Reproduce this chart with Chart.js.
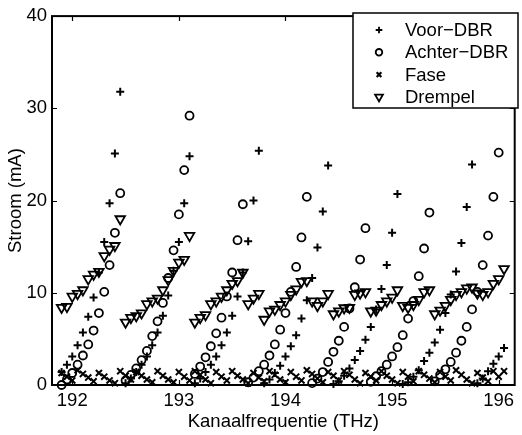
<!DOCTYPE html>
<html lang="nl">
<head>
    <meta charset="UTF-8">
    <title>Stroom per kanaalfrequentie</title>
    <script src="https://cdn.jsdelivr.net/npm/chart.js"></script>
    <style>
        html, body {
            margin: 0;
            padding: 0;
            background-color: #fff;
        }
        #chart {
            display: block;
        }
    </style>
</head>
<body>
    <canvas id="chart" width="522" height="435"></canvas>

    <script>
        // Channel frequencies (THz), 50 GHz grid
        const freq = [
            191.90, 191.95, 192.00, 192.05, 192.10, 192.15, 192.20, 192.25, 192.30, 192.35, 192.40, 192.45,
            192.50, 192.55, 192.60, 192.65, 192.70, 192.75, 192.80, 192.85, 192.90, 192.95, 193.00, 193.05, 193.10,
            193.15, 193.20, 193.25, 193.30, 193.35, 193.40, 193.45, 193.50, 193.55, 193.60, 193.65, 193.70, 193.75,
            193.80, 193.85, 193.90, 193.95, 194.00, 194.05, 194.10, 194.15, 194.20, 194.25, 194.30, 194.35, 194.40,
            194.45, 194.50, 194.55, 194.60, 194.65, 194.70, 194.75, 194.80, 194.85, 194.90, 194.95, 195.00, 195.05,
            195.10, 195.15, 195.20, 195.25, 195.30, 195.35, 195.40, 195.45, 195.50, 195.55, 195.60, 195.65, 195.70, 195.75,
            195.80, 195.85, 195.90, 195.95, 196.00, 196.05
        ];

        // Currents (mA)
        const voorDbr = [
            1.4, 2.2, 3.1, 4.3, 5.7, 7.4, 9.5, 12.2, 15.5, 19.7, 25.1, 31.8,
            0.2, 0.7, 1.4, 2.2, 3.1, 4.3, 5.7, 7.5, 9.7, 12.4, 15.5, 19.7, 24.8,
            0.2, 0.7, 1.4, 2.2, 3.1, 4.3, 5.7, 7.5, 9.6, 12.2, 15.6, 20.0, 25.4,
            0.2, 0.6, 1.3, 2.1, 3.1, 4.2, 5.4, 7.2, 9.2, 11.6, 14.9, 18.8, 23.8,
            0.1, 0.4, 1.0, 1.8, 2.7, 3.7, 4.9, 6.3, 8.2, 10.4, 13.0, 16.5, 20.7,
            0.1, 0.3, 0.9, 1.6, 2.6, 3.5, 4.6, 6.0, 7.8, 9.8, 12.3, 15.4, 19.3, 23.9,
            0.2, 0.7, 1.5, 2.3, 3.1, 4.0
        ];
        const achterDbr = [
            0.0, 0.6, 1.3, 2.2, 3.2, 4.4, 5.9, 7.8, 10.1, 13.0, 16.5, 20.8,
            0.5, 1.1, 1.8, 2.7, 3.7, 5.3, 6.9, 8.9, 11.6, 14.6, 18.5, 23.3, 29.2,
            1.2, 2.0, 3.0, 4.2, 5.6, 7.3, 9.6, 12.2, 15.7, 19.6, 0.3, 0.8, 1.5,
            2.2, 3.2, 4.4, 6.0, 7.8, 10.1, 12.8, 16.0, 20.4, 0.2, 0.7, 1.4, 2.5,
            3.6, 4.8, 6.3, 8.3, 10.6, 13.6, 17.0, 0.35, 0.95, 1.5, 2.2, 3.1, 4.1,
            5.4, 7.2, 9.1, 11.8, 14.8, 18.7, 0.4, 1.1, 1.7, 2.5, 3.5, 4.8, 6.3, 8.2,
            10.1, 13.0, 16.2, 20.4, 25.2, null
        ];
        const fase = [
            1.3, 0.9, 0.5, 1.6, 1.2, 0.8, 0.4, 1.3, 0.9, 0.5, 0.2, 1.5,
            1.0, 0.6, 1.4, 1.0, 0.6, 0.3, 1.5, 1.0, 0.6, 0.3, 1.4, 0.9, 0.5,
            1.5, 1.1, 0.6, 0.2, 1.4, 0.9, 0.5, 1.5, 1.0, 0.6, 0.2, 1.3, 0.8,
            0.4, 1.5, 1.1, 0.6, 0.3, 1.4, 0.9, 0.5, 1.6, 1.2, 0.7, 0.3, 1.4,
            1.0, 0.5, 1.5, 1.1, 0.6, 0.2, 1.3, 0.9, 0.5, 1.5, 1.0, 0.6, 0.2,
            1.4, 0.9, 0.4, 1.5, 1.1, 0.7, 0.3, 1.4, 0.9, 0.5, 1.6, 1.1, 0.6, 0.2,
            1.3, 0.8, 0.4, 1.5, 0.9, 1.5
        ];
        const drempel = [
            8.4, 8.5, 9.6, 9.9, 10.3, 11.5, 12.0, 12.3, 14.0, 14.7, 15.1, 18.0,
            6.8, 7.3, 7.5, 7.8, 8.8, 9.1, 9.4, 10.3, 11.4, 12.4, 13.3, 13.6, 16.2,
            6.8, 7.3, 7.6, 8.8, 9.1, 9.6, 10.3, 11.0, 11.3, 12.2, 8.8, 9.4, 9.9,
            7.1, 8.0, 8.2, 8.7, 9.1, 9.8, 10.4, 11.2, 11.3, 9.1, 8.6, 9.1, 9.9,
            7.7, 8.0, 8.35, 8.4, 9.8, 9.95, 10.1, 8.0, 8.1, 8.7, 9.1, 9.5, 10.3,
            8.6, 8.4, 8.7, 9.25, 10.1, 10.3, 7.7, 8.1, 8.6, 9.25, 9.8, 10.1, 10.5, 10.6,
            9.95, 9.8, 10.1, 11.0, 11.5, 12.6
        ];

        const xTicks = [192, 193, 194, 195, 196];
        const yTicks = [0, 10, 20, 30, 40];

        const FONT = 'Liberation Sans, Arial, Helvetica, sans-serif';

        function toPoints(ys) {
            return freq.map((f, i) => ({ x: f, y: ys[i] }));
        }

        const series = [
            { label: 'Voor\u2212DBR', data: voorDbr, style: 'cross', radius: 4, rotation: 0, lw: 2 },
            { label: 'Achter\u2212DBR', data: achterDbr, style: 'circle', radius: 4, rotation: 0, lw: 1.8 },
            { label: 'Fase', data: fase, style: 'crossRot', radius: 4.3, rotation: 0, lw: 2 },
            { label: 'Drempel', data: drempel, style: 'triangle', radius: 5.5, rotation: 180, lw: 1.8 }
        ];

        // draw a marker like chart.js does, used for the legend
        function drawMarker(ctx, style, x, y, r, rotation) {
            ctx.beginPath();
            if (style === 'cross') {
                ctx.moveTo(x - r, y); ctx.lineTo(x + r, y);
                ctx.moveTo(x, y - r); ctx.lineTo(x, y + r);
            } else if (style === 'crossRot') {
                const d = r * Math.SQRT1_2;
                ctx.moveTo(x - d, y - d); ctx.lineTo(x + d, y + d);
                ctx.moveTo(x + d, y - d); ctx.lineTo(x - d, y + d);
            } else if (style === 'circle') {
                ctx.arc(x, y, r, 0, Math.PI * 2);
            } else if (style === 'triangle') {
                let rad = rotation * Math.PI / 180;
                ctx.moveTo(x + Math.sin(rad) * r, y - Math.cos(rad) * r);
                rad += Math.PI * 2 / 3;
                ctx.lineTo(x + Math.sin(rad) * r, y - Math.cos(rad) * r);
                rad += Math.PI * 2 / 3;
                ctx.lineTo(x + Math.sin(rad) * r, y - Math.cos(rad) * r);
                ctx.closePath();
            }
            ctx.stroke();
        }

        // MATLAB style box with inward ticks, plus the legend
        const boxPlugin = {
            id: 'boxPlugin',
            afterDatasetsDraw(chart) {
                const { ctx, chartArea: a, scales } = chart;
                const tl = 5;
                ctx.save();
                ctx.strokeStyle = '#000';
                ctx.lineWidth = 1.2;
                ctx.beginPath();
                xTicks.forEach(v => {
                    const px = Math.round(scales.x.getPixelForValue(v)) + 0.5;
                    ctx.moveTo(px, a.bottom); ctx.lineTo(px, a.bottom - tl);
                    ctx.moveTo(px, a.top); ctx.lineTo(px, a.top + tl);
                });
                yTicks.forEach(v => {
                    const py = Math.round(scales.y.getPixelForValue(v)) + 0.5;
                    ctx.moveTo(a.left, py); ctx.lineTo(a.left + tl, py);
                    ctx.moveTo(a.right, py); ctx.lineTo(a.right - tl, py);
                });
                ctx.stroke();
                ctx.lineWidth = 2;
                ctx.strokeRect(a.left, a.top, a.right - a.left, a.bottom - a.top);
                ctx.restore();
            },
            afterDraw(chart) {
                const ctx = chart.ctx;
                const bx = 353, by = 13, bw = 165, bh = 95;
                ctx.save();
                ctx.fillStyle = '#fff';
                ctx.fillRect(bx, by, bw, bh);
                ctx.strokeStyle = '#000';
                ctx.lineWidth = 1.5;
                ctx.strokeRect(bx, by, bw, bh);
                ctx.font = '18.5px ' + FONT;
                ctx.textBaseline = 'middle';
                ctx.fillStyle = '#000';
                series.forEach((s, i) => {
                    const y = by + 17 + i * 22.3;
                    ctx.lineWidth = s.style === 'crossRot' ? 2.2 : 1.8;
                    const r = s.style === 'triangle' ? 4.5 : 3.3;
                    drawMarker(ctx, s.style, 379, y, r, s.rotation);
                    ctx.fillText(s.label, 405, y + 1);
                });
                ctx.restore();
            }
        };

        const tickFont = { family: FONT, size: 18.5 };

        new Chart(document.getElementById('chart'), {
            type: 'scatter',
            data: {
                datasets: series.map(s => ({
                    label: s.label,
                    data: toPoints(s.data),
                    pointStyle: s.style,
                    pointRadius: s.radius,
                    pointHoverRadius: s.radius,
                    pointRotation: s.rotation,
                    borderColor: '#000',
                    backgroundColor: 'rgba(0,0,0,0)',
                    pointBorderWidth: s.lw,
                    showLine: false,
                    clip: false
                }))
            },
            options: {
                responsive: false,
                animation: false,
                devicePixelRatio: 1,
                layout: { padding: { top: 10, right: 0, bottom: 0, left: 0 } },
                plugins: {
                    legend: { display: false },
                    tooltip: { enabled: false }
                },
                scales: {
                    x: {
                        type: 'linear',
                        min: 191.81,
                        max: 196.15,
                        afterBuildTicks: s => { s.ticks = xTicks.map(v => ({ value: v })); },
                        afterFit: s => { s.height = 50; },
                        grid: { display: false, drawTicks: false },
                        border: { display: false },
                        ticks: {
                            color: '#000',
                            font: tickFont,
                            padding: 5,
                            maxRotation: 0,
                            autoSkip: false,
                            callback: v => String(v)
                        },
                        title: {
                            display: true,
                            text: 'Kanaalfrequentie (THz)',
                            color: '#000',
                            font: tickFont,
                            padding: { top: 0, bottom: 2 }
                        }
                    },
                    y: {
                        min: 0,
                        max: 40,
                        afterBuildTicks: s => { s.ticks = yTicks.map(v => ({ value: v })); },
                        afterFit: s => { s.width = 52; },
                        grid: { display: false, drawTicks: false },
                        border: { display: false },
                        ticks: {
                            color: '#000',
                            font: tickFont,
                            padding: 5,
                            callback: v => String(v)
                        },
                        title: {
                            display: true,
                            text: 'Stroom (mA)',
                            color: '#000',
                            font: tickFont,
                            padding: { top: 5, bottom: 0 }
                        }
                    }
                }
            },
            plugins: [boxPlugin]
        });
    </script>
</body>
</html>
